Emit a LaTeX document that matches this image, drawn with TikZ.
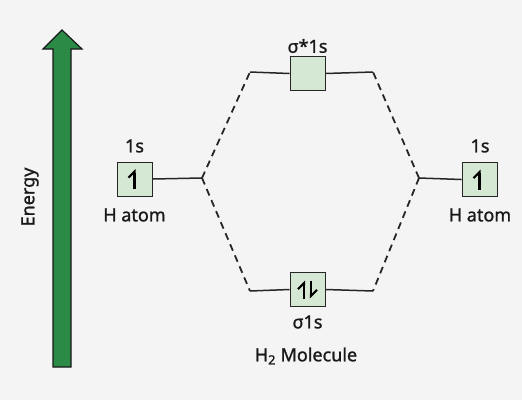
\documentclass[tikz,border=0pt]{standalone}
\usepackage{fontspec}
\setmainfont{Noto Sans}[FakeBold=1.2]
\usepackage{xcolor}
\usetikzlibrary{arrows.meta, positioning}

\definecolor{bggray}{HTML}{F4F4F4}
\definecolor{orbgreen}{HTML}{D5E8D4}
\definecolor{energygreen}{HTML}{2A8A46}

\begin{document}
\begin{tikzpicture}[
    x=1pt, y=-1pt,
    orb/.style={rectangle, draw=black!85, fill=orbgreen, line width=0.9pt, minimum width=35pt, minimum height=34pt, inner sep=0pt},
    txt/.style={font=\fontsize{18}{21}\selectfont, text=black!90, inner sep=1pt},
    level/.style={line width=1.5pt, black!85},
    corr/.style={line width=1.8pt, black!85, dash pattern=on 7pt off 5pt},
    spin/.style={line width=2.4pt, -{Straight Barb[harpoon, length=6pt, width=12pt, line width=2.2pt]}},
    energy/.style={draw=black!90, fill=energygreen, line width=1.2pt, line join=miter}
]

%% ── Canvas ───────────────────────────────────────────────────────────
\fill[bggray] (0,0) rectangle (522,400);
\useasboundingbox (0,0) rectangle (522,400);

%% ── Energy axis ──────────────────────────────────────────────────────
\draw[energy] (53,367) -- (53,49) -- (43,49) -- (62,30) -- (82,49)
              -- (71,49) -- (71,367) -- cycle;
\node[txt, rotate=90] (energylbl) at (30,197) {Energy};

%% ── Orbital boxes ────────────────────────────────────────────────────
\node[orb] (hleft)   at (134.5,179)  {};
\node[orb] (hright)  at (479.5,179.5){};
\node[orb] (sigstar) at (307.5,73.5) {};
\node[orb] (sig)     at (307.5,289.5){};

%% ── Labels ───────────────────────────────────────────────────────────
\node[txt] (hleftorb)  at (134.5,146) {1s};
\node[txt] (hleftlbl)  at (134.5,215) {H atom};
\node[txt] (hrightorb) at (480,146)   {1s};
\node[txt] (hrightlbl) at (480,215)   {H atom};
\node[txt] (sigstarlbl) at (307.5,46) {σ*1s};
\node[txt] (siglbl)     at (307.5,322){σ1s};
\node[txt] (mollbl)     at (306,356)  {H\textsubscript{2} Molecule};

%% ── Corner points of the level lines ─────────────────────────────────
\coordinate (ljoin) at (202,178);
\coordinate (rjoin) at (419,178);
\coordinate (sstl) at (250,72);
\coordinate (sstr) at (373,72);
\coordinate (ssl)  at (250,291);
\coordinate (ssr)  at (373,291);

%% ── Level lines ──────────────────────────────────────────────────────
\draw[level] (hleft.east) -- (ljoin);
\draw[level] (hright.west) -- (rjoin);
\draw[level] (sstl) -- (sigstar.west);
\draw[level] (sigstar.east) -- (sstr);
\draw[level] (ssl) -- (sig.west);
\draw[level] (sig.east) -- (ssr);

%% ── Correlation lines (dashed) ───────────────────────────────────────
\draw[corr] (ljoin) -- (sstl);
\draw[corr] (ljoin) -- (ssl);
\draw[corr] (rjoin) -- (sstr);
\draw[corr] (rjoin) -- (ssr);

%% ── Electrons ────────────────────────────────────────────────────────
\draw[spin] ([yshift=-10pt]hleft.center) -- ([yshift=10pt]hleft.center);
\draw[spin] ([yshift=-10pt]hright.center) -- ([yshift=10pt]hright.center);
\draw[spin] ([xshift=-3.5pt, yshift=-9pt]sig.center) -- ([xshift=-3.5pt, yshift=9pt]sig.center);
\draw[spin] ([xshift=3.5pt, yshift=9pt]sig.center) -- ([xshift=3.5pt, yshift=-9pt]sig.center);

\end{tikzpicture}
\end{document}
